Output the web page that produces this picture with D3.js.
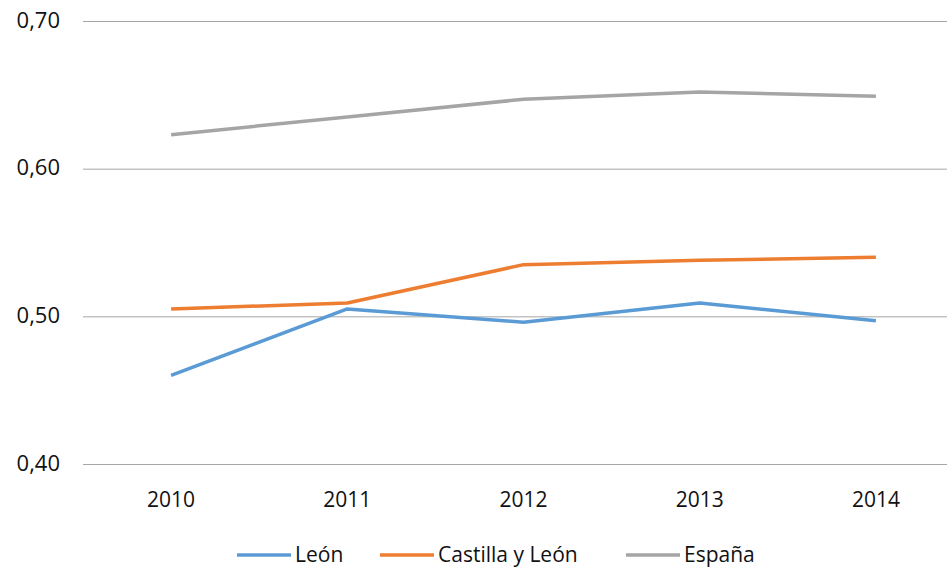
<!DOCTYPE html>
<html>
<head>
<meta charset="utf-8">
<script src="https://cdn.jsdelivr.net/npm/d3@7"></script>
<style>
  body { margin: 0; background: #fff; }
  svg text { font-family: "Open Sans", sans-serif; fill: #111; }
</style>
</head>
<body>
<div id="chart"></div>
<script>
// data
var years = ["2010", "2011", "2012", "2013", "2014"];
var leon = [0.460, 0.505, 0.496, 0.509, 0.497];
var castilla = [0.505, 0.509, 0.535, 0.538, 0.540];
var espana = [0.623, 0.635, 0.647, 0.652, 0.649];
var yTicks = [0.40, 0.50, 0.60, 0.70];

var series = [
  {name: "León", values: leon, color: "#5b9bd5"},
  {name: "Castilla y León", values: castilla, color: "#ed7d31"},
  {name: "España", values: espana, color: "#a5a5a5"}
];

var W = 947, H = 569;
var margin = {top: 21, left: 83, right: -17, bottom: 105};
var width = W - margin.left - margin.right,
    height = H - margin.top - margin.bottom;

var svg = d3.select("#chart").append("svg")
    .attr("width", W)
    .attr("height", H);

var g = svg.append("g")
    .attr("transform", "translate(" + margin.left + "," + margin.top + ")");

var x = d3.scalePoint()
    .domain(years)
    .range([0, width])
    .padding(0.5);

var y = d3.scaleLinear()
    .domain([0.40, 0.70])
    .range([height, 0]);

// gridlines
g.selectAll(".grid")
    .data(yTicks)
    .enter().append("line")
    .attr("x1", 0)
    .attr("x2", width)
    .attr("y1", function(d) { return y(d) + 0.5; })
    .attr("y2", function(d) { return y(d) + 0.5; })
    .attr("stroke", "#a6a6a6")
    .attr("stroke-width", 1);

// y axis labels
var fmt = function(d) { return d3.format(".2f")(d).replace(".", ","); };
g.selectAll(".ylab")
    .data(yTicks)
    .enter().append("text")
    .attr("x", -23)
    .attr("y", function(d) { return y(d); })
    .attr("dy", "0.3em")
    .attr("text-anchor", "end")
    .style("font-size", "22px")
    .text(fmt);

// x axis labels
g.selectAll(".xlab")
    .data(years)
    .enter().append("text")
    .attr("x", function(d) { return x(d); })
    .attr("y", height + 43)
    .attr("text-anchor", "middle")
    .style("font-size", "21px")
    .text(function(d) { return d; });

var line = d3.line()
    .x(function(d, i) { return x(years[i]); })
    .y(function(d) { return y(d); });

g.selectAll(".series")
    .data(series)
    .enter().append("path")
    .attr("fill", "none")
    .attr("stroke", function(d) { return d.color; })
    .attr("stroke-width", 3.5)
    .attr("stroke-linejoin", "round")
    .attr("d", function(d) { return line(d.values); });

// legend
var legendPos = [237, 380, 626];
var legend = svg.selectAll(".legend")
    .data(series)
    .enter().append("g")
    .attr("transform", function(d, i) { return "translate(" + legendPos[i] + ",555)"; });

legend.append("line")
    .attr("x1", 0).attr("x2", 54)
    .attr("stroke", function(d) { return d.color; })
    .attr("stroke-width", 3.5);

legend.append("text")
    .attr("x", 58)
    .attr("dy", "0.35em")
    .style("font-size", "21px")
    .text(function(d) { return d.name; });
</script>
</body>
</html>
